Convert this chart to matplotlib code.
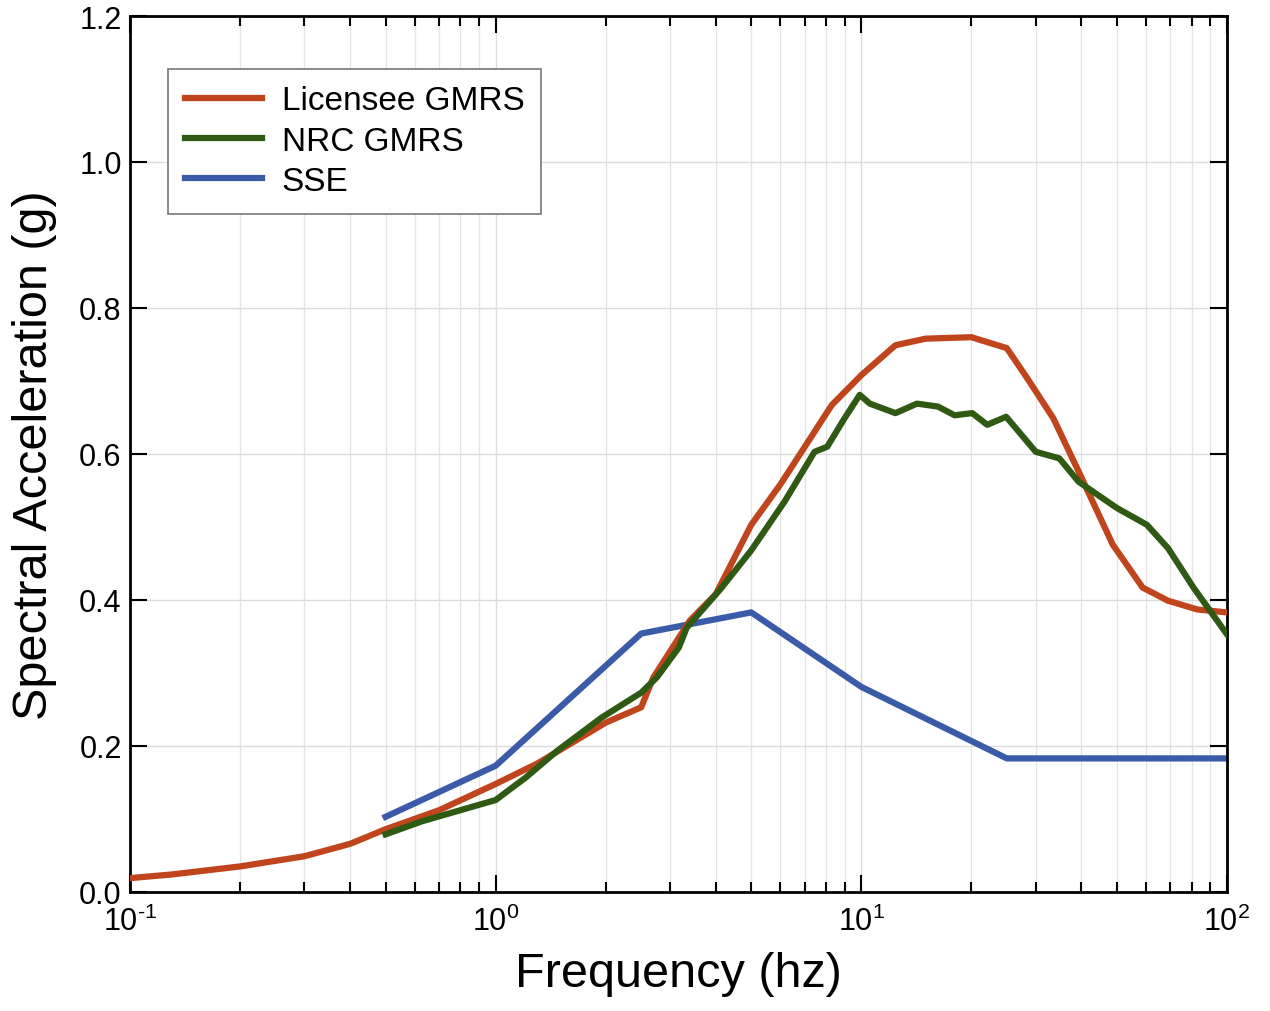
import matplotlib.pyplot as plt
from matplotlib.ticker import FixedLocator, FixedFormatter

plt.rcParams['font.family'] = ['Liberation Sans', 'DejaVu Sans']
plt.rcParams['mathtext.default'] = 'regular'
plt.rcParams['axes.unicode_minus'] = False

# Licensee GMRS
lic_freq = [0.1, 0.13, 0.2, 0.3, 0.4, 0.5, 0.7, 1.0, 1.3, 2.0, 2.5, 2.7, 3.4, 4.0,
            5.0, 6.0, 7.05, 8.3, 10.0, 12.4, 15.0, 20.0, 25.0, 28.5, 33.5, 39.3,
            48.7, 58.8, 69.0, 83.0, 100.0]
lic_sa = [0.019, 0.024, 0.035, 0.049, 0.066, 0.086, 0.112, 0.148, 0.176, 0.232, 0.253,
          0.294, 0.372, 0.408, 0.503, 0.558, 0.612, 0.667, 0.708, 0.749, 0.758,
          0.760, 0.745, 0.703, 0.649, 0.576, 0.476, 0.417, 0.399, 0.387, 0.383]

# NRC GMRS
nrc_freq = [0.5, 0.63, 1.0, 1.21, 1.47, 1.95, 2.5, 2.76, 3.17, 3.33, 4.12, 5.0, 6.17,
            7.45, 8.07, 9.0, 9.9, 10.55, 12.4, 14.2, 16.2, 18.0, 20.1, 22.1, 24.9,
            30.0, 34.8, 39.3, 50.0, 60.4, 69.0, 81.0, 100.0]
nrc_sa = [0.079, 0.097, 0.126, 0.157, 0.193, 0.239, 0.273, 0.294, 0.335, 0.362, 0.415,
          0.468, 0.535, 0.603, 0.610, 0.649, 0.681, 0.669, 0.656, 0.669, 0.665,
          0.653, 0.656, 0.640, 0.651, 0.603, 0.594, 0.562, 0.526, 0.503, 0.471,
          0.417, 0.353]

# SSE
sse_freq = [0.5, 1.0, 2.5, 5.0, 10.0, 25.0, 100.0]
sse_sa = [0.103, 0.173, 0.354, 0.383, 0.281, 0.183, 0.183]

x_ticks = [0.1, 1, 10, 100]
x_labels = ['$10^{\u2010' + '1}$', '$10^{0}$', '$10^{1}$', '$10^{2}$']
y_ticks = [0.0, 0.2, 0.4, 0.6, 0.8, 1.0, 1.2]
y_labels = ['0.0', '0.2', '0.4', '0.6', '0.8', '1.0', '1.2']

fig = plt.figure(figsize=(12.7, 10.12), dpi=100)
ax = fig.add_axes([0.1024, 0.1176, 0.8637, 0.8656])

ax.plot(lic_freq, lic_sa, color='#C0441C', lw=4.5, label='Licensee GMRS', zorder=3)
ax.plot(nrc_freq, nrc_sa, color='#2F5A14', lw=4.5, label='NRC GMRS', zorder=4)
ax.plot(sse_freq, sse_sa, color='#3A5CA8', lw=4.5, label='SSE', zorder=2)

ax.set_xscale('log')
ax.set_xlim(0.1, 100)
ax.set_ylim(0, 1.2)
ax.xaxis.set_major_locator(FixedLocator(x_ticks))
ax.xaxis.set_major_formatter(FixedFormatter(x_labels))
ax.set_yticks(y_ticks)
ax.set_yticklabels(y_labels)

ax.grid(True, which='major', color='#dcdcdc', lw=1.0)
ax.grid(True, which='minor', axis='x', color='#e4e4e4', lw=0.9)
ax.set_axisbelow(True)

ax.tick_params(which='both', direction='in', top=True, right=True, width=1.5,
               labelsize=22)
ax.tick_params(which='major', length=12)
ax.tick_params(which='minor', length=7)
ax.tick_params(axis='x', pad=10)
ax.tick_params(axis='y', pad=6)
for sp in ax.spines.values():
    sp.set_linewidth(2)

ax.set_xlabel('Frequency (hz)', fontsize=35, labelpad=10)
ax.set_ylabel('Spectral Acceleration (g)', fontsize=35, labelpad=16)

leg = ax.legend(loc='upper left', bbox_to_anchor=(0.035, 0.94), borderaxespad=0,
                fontsize=24, fancybox=False, framealpha=1, edgecolor='#777777',
                handlelength=2.3, handletextpad=0.6, labelspacing=0.28,
                borderpad=0.5)
leg.get_frame().set_linewidth(1.2)

fig.savefig('out.png', dpi=100)
